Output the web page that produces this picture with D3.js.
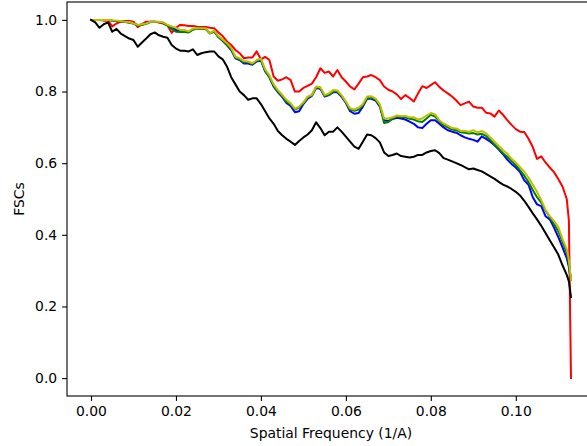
<!DOCTYPE html>
<html>
<head>
<meta charset="utf-8">
<script src="https://cdn.jsdelivr.net/npm/d3@7"></script>
<style>
  html, body { margin: 0; padding: 0; background: #ffffff; }
  svg text { font-family: "DejaVu Sans", sans-serif; }
</style>
</head>
<body>
<svg id="chart" width="587" height="446"></svg>
<script>
// ---- data ----
const freq = [
  0.000,0.001,0.002,0.003,0.004,0.005,0.006,0.007,0.008,0.009,
  0.010,0.011,0.012,0.013,0.014,0.015,0.016,0.017,0.018,0.019,
  0.020,0.021,0.022,0.023,0.024,0.025,0.026,0.027,0.028,0.029,
  0.030,0.031,0.032,0.033,0.034,0.035,0.036,0.037,0.038,0.039,
  0.040,0.041,0.042,0.043,0.044,0.045,0.046,0.047,0.048,0.049,
  0.050,0.051,0.052,0.053,0.054,0.055,0.056,0.057,0.058,0.059,
  0.060,0.061,0.062,0.063,0.064,0.065,0.066,0.067,0.068,0.069,
  0.070,0.071,0.072,0.073,0.074,0.075,0.076,0.077,0.078,0.079,
  0.080,0.081,0.082,0.083,0.084,0.085,0.086,0.087,0.088,0.089,
  0.090,0.091,0.092,0.093,0.094,0.095,0.096,0.097,0.098,0.099,
  0.100,0.101,0.102,0.103,0.104,0.105,0.106,0.107,0.108,0.109,
  0.110,0.111,0.112,0.1125,0.113];

const redVals = [
  1.0,1.0,1.0,0.998,0.998,0.982,0.99,0.995,0.997,0.997,
  0.995,0.98,0.988,0.995,0.995,0.995,0.993,0.99,0.985,0.964,
  0.978,0.986,0.985,0.983,0.983,0.981,0.98,0.98,0.978,0.977,
  0.965,0.955,0.94,0.93,0.916,0.907,0.893,0.895,0.895,0.912,
  0.89,0.897,0.888,0.842,0.83,0.834,0.84,0.832,0.80,0.80,
  0.81,0.816,0.822,0.84,0.865,0.852,0.856,0.842,0.86,0.84,
  0.828,0.814,0.806,0.822,0.84,0.842,0.846,0.84,0.832,0.814,
  0.805,0.80,0.792,0.779,0.79,0.782,0.772,0.795,0.815,0.81,
  0.818,0.826,0.813,0.803,0.795,0.786,0.775,0.762,0.767,0.772,
  0.758,0.755,0.755,0.741,0.739,0.73,0.747,0.735,0.72,0.707,
  0.695,0.688,0.687,0.668,0.645,0.612,0.619,0.602,0.588,0.575,
  0.556,0.535,0.50,0.44,0.0];

const blueVals = [
  1.0,1.0,1.0,1.0,1.0,0.998,0.997,0.996,0.995,0.993,
  0.99,0.985,0.987,0.99,0.995,0.995,0.994,0.992,0.985,0.978,
  0.972,0.968,0.968,0.966,0.974,0.975,0.975,0.975,0.963,0.968,
  0.952,0.942,0.93,0.916,0.893,0.888,0.878,0.878,0.875,0.884,
  0.887,0.856,0.84,0.814,0.798,0.785,0.768,0.76,0.742,0.745,
  0.765,0.78,0.788,0.81,0.808,0.786,0.79,0.798,0.798,0.785,
  0.768,0.745,0.738,0.74,0.758,0.78,0.78,0.775,0.758,0.72,
  0.718,0.723,0.727,0.725,0.722,0.716,0.71,0.70,0.698,0.71,
  0.72,0.72,0.71,0.70,0.692,0.688,0.685,0.678,0.672,0.668,
  0.665,0.66,0.675,0.668,0.66,0.65,0.638,0.625,0.61,0.598,
  0.588,0.575,0.552,0.54,0.505,0.485,0.48,0.452,0.443,0.42,
  0.394,0.365,0.335,0.31,0.274];

const greenVals = [
  1.0,1.0,1.0,1.0,1.0,0.998,0.997,0.996,0.994,0.993,
  0.99,0.985,0.986,0.989,0.994,0.994,0.994,0.991,0.984,0.975,
  0.967,0.966,0.966,0.965,0.973,0.975,0.975,0.975,0.962,0.968,
  0.952,0.942,0.93,0.918,0.895,0.89,0.882,0.882,0.877,0.886,
  0.889,0.858,0.84,0.816,0.80,0.788,0.772,0.764,0.75,0.755,
  0.768,0.783,0.79,0.812,0.81,0.788,0.79,0.80,0.80,0.788,
  0.77,0.75,0.746,0.75,0.762,0.783,0.782,0.778,0.76,0.712,
  0.715,0.725,0.73,0.728,0.728,0.724,0.722,0.717,0.715,0.725,
  0.735,0.73,0.717,0.706,0.70,0.694,0.692,0.686,0.685,0.683,
  0.684,0.68,0.682,0.676,0.665,0.652,0.64,0.628,0.618,0.606,
  0.595,0.58,0.565,0.547,0.525,0.505,0.49,0.468,0.45,0.43,
  0.41,0.38,0.35,0.32,0.274];

const yellowVals = [
  1.0,1.0,1.0,1.0,1.0,0.999,0.998,0.997,0.995,0.994,
  0.99,0.986,0.988,0.99,0.995,0.995,0.995,0.993,0.986,0.982,
  0.978,0.972,0.972,0.968,0.976,0.977,0.977,0.977,0.963,0.97,
  0.955,0.945,0.935,0.922,0.897,0.893,0.885,0.884,0.879,0.888,
  0.892,0.862,0.845,0.82,0.804,0.791,0.777,0.767,0.752,0.758,
  0.77,0.786,0.791,0.814,0.812,0.79,0.795,0.804,0.803,0.79,
  0.772,0.753,0.75,0.755,0.765,0.786,0.787,0.78,0.764,0.725,
  0.725,0.728,0.733,0.732,0.732,0.728,0.728,0.722,0.725,0.733,
  0.74,0.736,0.72,0.711,0.705,0.698,0.697,0.69,0.69,0.688,
  0.692,0.686,0.69,0.684,0.672,0.66,0.648,0.636,0.627,0.612,
  0.602,0.589,0.576,0.56,0.54,0.52,0.497,0.47,0.452,0.438,
  0.422,0.388,0.36,0.33,0.274];

const blackVals = [
  1.0,0.993,0.978,0.988,0.993,0.967,0.975,0.962,0.955,0.948,
  0.944,0.925,0.937,0.948,0.96,0.965,0.957,0.953,0.95,0.93,
  0.92,0.914,0.914,0.912,0.918,0.902,0.907,0.91,0.912,0.912,
  0.898,0.89,0.87,0.84,0.82,0.80,0.79,0.777,0.781,0.781,
  0.765,0.745,0.725,0.71,0.69,0.678,0.668,0.66,0.651,0.662,
  0.672,0.68,0.692,0.714,0.698,0.678,0.688,0.688,0.70,0.688,
  0.674,0.66,0.646,0.64,0.66,0.68,0.678,0.67,0.658,0.63,
  0.62,0.623,0.627,0.62,0.618,0.616,0.618,0.623,0.623,0.63,
  0.634,0.636,0.628,0.614,0.61,0.605,0.60,0.595,0.589,0.583,
  0.585,0.581,0.577,0.57,0.563,0.556,0.548,0.54,0.535,0.528,
  0.52,0.51,0.495,0.478,0.46,0.443,0.425,0.405,0.385,0.365,
  0.345,0.315,0.288,0.27,0.226];

const xTicks = [0.00,0.02,0.04,0.06,0.08,0.10];
const yTicks = [0.0,0.2,0.4,0.6,0.8,1.0];

const seriesList = [
  {name: "red", values: redVals, color: "#ff0000"},
  {name: "blue", values: blueVals, color: "#0000ff"},
  {name: "green", values: greenVals, color: "#008000"},
  {name: "yellow", values: yellowVals, color: "#bfbf00"},
  {name: "black", values: blackVals, color: "#000000"}
];

// ---- layout ----
const svg = d3.select("#chart");
const mLeft = 67, mRight = 595, mTop = 2, mBottom = 396;

const xMin = d3.min(freq), xMax = d3.max(freq);
const xPad = (xMax - xMin) * 0.05;
const x = d3.scaleLinear().domain([xMin - xPad, xMax + xPad]).range([mLeft, mRight]);
const y = d3.scaleLinear().domain([-0.05, 1.05]).range([mBottom, mTop]);

svg.append("rect").attr("x",0).attr("y",0).attr("width",587).attr("height",446).attr("fill","#fff");

svg.append("defs").append("clipPath").attr("id","plotclip")
  .append("rect").attr("x", mLeft).attr("y", mTop).attr("width", mRight-mLeft).attr("height", mBottom-mTop);

const line = d3.line().x((d,i)=>x(freq[i])).y(d=>y(d));
const plot = svg.append("g").attr("clip-path","url(#plotclip)");
seriesList.forEach(s => {
  plot.append("path").datum(s.values)
    .attr("d", line)
    .attr("fill","none")
    .attr("stroke", s.color)
    .attr("stroke-width", 2)
    .attr("stroke-linejoin","round")
    .attr("stroke-linecap","square");
});

// axes
const fs = "13.9px";
const xAxis = d3.axisBottom(x).tickValues(xTicks).tickFormat(d3.format(".2f")).tickSizeOuter(0).tickSize(4.9).tickPadding(4.9);
const gx = svg.append("g").attr("transform",`translate(0,${mBottom})`).call(xAxis);
gx.select(".domain").remove();
gx.selectAll("text").attr("font-size", fs).attr("fill","#000").attr("font-family","DejaVu Sans");
gx.selectAll("line").attr("stroke","#000").attr("stroke-width",1.1);

const yAxis = d3.axisLeft(y).tickValues(yTicks).tickFormat(d3.format(".1f")).tickSizeOuter(0).tickSize(4.9).tickPadding(4.9);
const gy = svg.append("g").attr("transform",`translate(${mLeft},0)`).call(yAxis);
gy.select(".domain").remove();
gy.selectAll("text").attr("font-size", fs).attr("fill","#000").attr("font-family","DejaVu Sans");
gy.selectAll("line").attr("stroke","#000").attr("stroke-width",1.1);

// frame (spines)
svg.append("rect").attr("x", mLeft).attr("y", mTop).attr("width", mRight-mLeft).attr("height", mBottom-mTop)
  .attr("fill","none").attr("stroke","#000").attr("stroke-width",1.1);

// labels
svg.append("text").attr("x", (mLeft+mRight)/2).attr("y", 437.5).attr("text-anchor","middle")
  .attr("font-size", fs).attr("fill","#000").text("Spatial Frequency (1/A)");
svg.append("text").attr("transform",`translate(24,${(mTop+mBottom)/2}) rotate(-90)`)
  .attr("text-anchor","middle").attr("font-size", fs).attr("fill","#000").text("FSCs");
</script>
</body>
</html>
